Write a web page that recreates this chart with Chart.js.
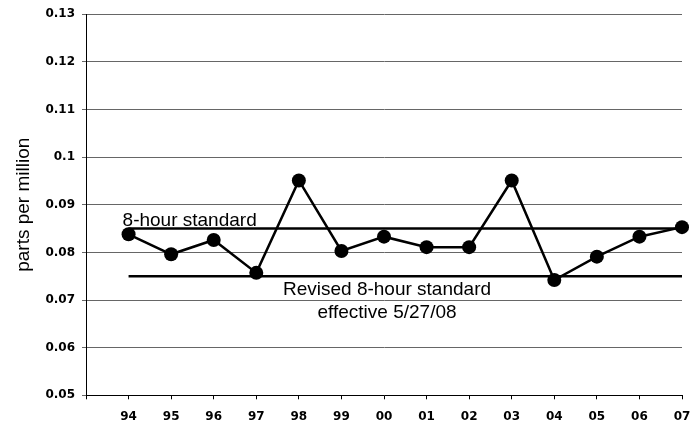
<!DOCTYPE html>
<html>
<head>
<meta charset="utf-8">
<script src="https://cdn.jsdelivr.net/npm/chart.js@4"></script>
<style>
  html, body { margin: 0; padding: 0; background: #fff; }
  #wrap { width: 697px; height: 423px; }
</style>
</head>
<body>
<div id="wrap"><canvas id="chart"></canvas></div>
<script>
// years (first slot is an empty category so the axis starts one step before 94)
const years = ['', '94', '95', '96', '97', '98', '99', '00', '01', '02', '03', '04', '05', '06', '07'];
const ozone = [null, 0.0838, 0.0796, 0.0826, 0.0757, 0.0951, 0.0803, 0.0833, 0.0811, 0.0811, 0.0951, 0.0742, 0.0791, 0.0833, 0.0853];
const oldStandard = 0.085;
const newStandard = 0.075;
const yTicks = [0.05, 0.06, 0.07, 0.08, 0.09, 0.1, 0.11, 0.12, 0.13];

const flat = v => years.map((y, i) => i === 0 ? null : v);

// text notes under/over the standard lines
const notes = {
    id: 'notes',
    afterDatasetsDraw(chart) {
        const ctx = chart.ctx;
        const x = chart.scales.x, y = chart.scales.y;
        ctx.save();
        ctx.fillStyle = '#000';
        ctx.font = '19px "Liberation Sans", Arial, sans-serif';
        ctx.textBaseline = 'alphabetic';
        ctx.textAlign = 'left';
        ctx.fillText('8-hour standard', x.getPixelForValue(1) - 6, y.getPixelForValue(oldStandard) - 3);
        ctx.textAlign = 'center';
        const cx = x.getPixelForValue(7) + 3;
        ctx.fillText('Revised 8-hour standard', cx, y.getPixelForValue(newStandard) + 19);
        ctx.fillText('effective 5/27/08', cx, y.getPixelForValue(newStandard) + 42);
        ctx.restore();
    }
};

new Chart(document.getElementById('chart').getContext('2d'), {
    type: 'line',
    data: {
        labels: years,
        datasets: [{
            data: ozone,
            borderColor: '#000',
            backgroundColor: '#000',
            borderWidth: 2.5,
            pointRadius: 7,
            pointBackgroundColor: '#000',
            pointBorderWidth: 0,
            tension: 0
        }, {
            data: flat(oldStandard),
            borderColor: '#000',
            borderWidth: 2.5,
            pointRadius: 0
        }, {
            data: flat(newStandard),
            borderColor: '#000',
            borderWidth: 2.5,
            pointRadius: 0
        }]
    },
    plugins: [notes],
    options: {
        responsive: true,
        maintainAspectRatio: false,
        animation: false,
        layout: { padding: { left: 0, right: 15, top: 14, bottom: 0 } },
        plugins: {
            legend: { display: false },
            tooltip: { enabled: false }
        },
        scales: {
            x: {
                offset: false,
                grid: {
                    drawOnChartArea: false,
                    drawTicks: true,
                    tickLength: 4,
                    color: '#000'
                },
                border: { color: '#000', width: 1 },
                ticks: {
                    autoSkip: false,
                    maxRotation: 0,
                    padding: 10,
                    color: '#000',
                    font: { family: '"DejaVu Sans", sans-serif', size: 12, weight: 'bold' }
                },
                afterFit(s) {
                    s.height = 27.7;
                    s.paddingLeft = 0;
                    s.paddingRight = 0;
                }
            },
            y: {
                min: 0.05,
                max: 0.13,
                afterBuildTicks(s) { s.ticks = yTicks.map(v => ({ value: v })); },
                grid: {
                    color: '#666',
                    lineWidth: 1,
                    tickLength: 4
                },
                border: { color: '#000', width: 1 },
                ticks: {
                    padding: 7,
                    color: '#000',
                    callback: v => String(+v.toFixed(2)),
                    font: { family: '"DejaVu Sans", sans-serif', size: 12, weight: 'bold' }
                },
                title: {
                    display: true,
                    text: 'parts per million',
                    color: '#000',
                    padding: { top: 12, bottom: 0 },
                    font: { family: '"Liberation Sans", Arial, sans-serif', size: 19 }
                },
                afterFit(s) { s.width = 86; }
            }
        }
    }
});
</script>
</body>
</html>
